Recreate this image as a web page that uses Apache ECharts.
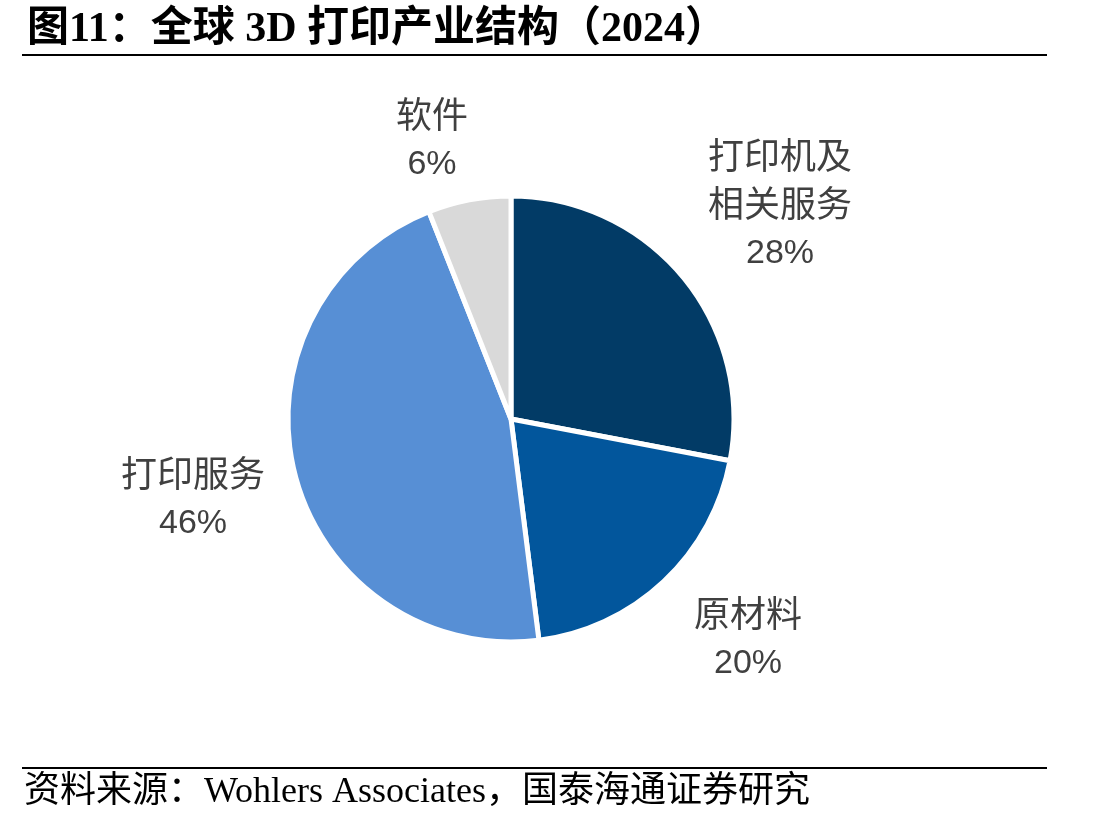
<!DOCTYPE html>
<html>
<head>
<meta charset="utf-8">
<script src="https://cdn.jsdelivr.net/npm/echarts@6/dist/echarts.min.js"></script>
<style>
  html, body { margin: 0; padding: 0; background: #fff; }
  #main { width: 1093px; height: 827px; }
</style>
</head>
<body>
<div id="main"></div>
<script>
var names = ['打印机及\n相关服务', '原材料', '打印服务', '软件'];
var shares = [28, 20, 46, 6];
var colors = ['#023B66', '#02569C', '#578FD5', '#D9D9D9'];

// label centres, picked by eye from the reference
var labelPos = [[780, 206], [748, 640], [193, 500], [432, 141]];

var chartDom = document.getElementById('main');
var myChart = echarts.init(chartDom);

var cjk = '"Liberation Serif", "Noto Sans CJK SC", serif';
var lab = '"Liberation Sans", "Noto Sans CJK SC", sans-serif';

var option = {
    backgroundColor: '#fff',
    animation: false,
    title: {
        text: '图11：全球 3D 打印产业结构（2024）',
        left: 22,
        top: 4,
        textStyle: {
            fontFamily: cjk,
            fontWeight: 'bold',
            fontSize: 42,
            color: '#000'
        }
    },
    graphic: [
        {
            type: 'line',
            shape: { x1: 22, y1: 55, x2: 1047, y2: 55 },
            style: { stroke: '#000', lineWidth: 2 }
        },
        {
            type: 'line',
            shape: { x1: 22, y1: 768, x2: 1047, y2: 768 },
            style: { stroke: '#000', lineWidth: 2 }
        },
        {
            type: 'text',
            left: 24,
            top: 775,
            style: {
                text: '资料来源：Wohlers Associates，国泰海通证券研究',
                font: '36px ' + cjk,
                fill: '#000'
            }
        }
    ],
    series: [{
        type: 'pie',
        center: [511, 419],
        radius: 223,
        startAngle: 90,
        clockwise: true,
        itemStyle: {
            borderColor: '#fff',
            borderWidth: 5
        },
        label: {
            show: true,
            position: 'outside',
            formatter: function (p) {
                return '{n|' + p.name.split('\n').join('}\n{n|') + '}\n{v|' + p.value + '%}';
            },
            align: 'center',
            rich: {
                n: { fontFamily: lab, fontSize: 36, color: '#404040', lineHeight: 48, align: 'center' },
                v: { fontFamily: lab, fontSize: 34, color: '#404040', lineHeight: 46, align: 'center' }
            }
        },
        labelLine: { show: false },
        labelLayout: function (params) {
            var p = labelPos[params.dataIndex];
            return {
                x: p[0],
                y: p[1],
                align: 'center',
                verticalAlign: 'middle'
            };
        },
        data: names.map(function (n, i) {
            return { name: n, value: shares[i], itemStyle: { color: colors[i] } };
        })
    }]
};

option && myChart.setOption(option);
</script>
</body>
</html>
